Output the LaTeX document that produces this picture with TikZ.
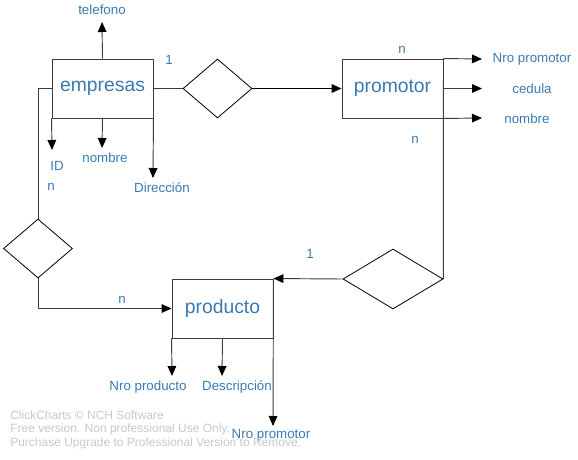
\documentclass[tikz,border=0pt]{standalone}
\usepackage{fontspec}
\setmainfont{Liberation Sans}
\usepackage{xcolor}
\usetikzlibrary{shapes.geometric,arrows.meta}
\definecolor{txtblue}{RGB}{58,122,176}
\definecolor{wmgray}{RGB}{200,200,200}
\definecolor{linegray}{RGB}{60,60,60}

\begin{document}
\begin{tikzpicture}[x=0.75pt,y=-0.75pt,
    entity/.style={draw=linegray,line width=0.7pt,rectangle,minimum width=75.75pt,minimum height=44.25pt,inner sep=0pt,text=txtblue,font=\fontsize{14.5}{16}\selectfont},
    rel/.style={draw=black,line width=0.6pt,diamond,inner sep=0pt,aspect=1.2},
    lbl/.style={text=txtblue,font=\fontsize{10}{12}\selectfont,inner sep=0pt},
    wm/.style={text=wmgray,font=\fontsize{9}{10.5}\selectfont,inner sep=0pt,anchor=west},
    link/.style={draw=linegray,line width=0.7pt},
    arr/.style={link,-{Triangle[length=7.5pt,width=6.5pt,color=black,fill=black]}}]
        \useasboundingbox (0,0) rectangle (578,460);
        % entities and relations
        \node[entity] (emp) at (102.5,88.5) {empresas};
        \node[entity] (prom) at (392.5,88.5) {promotor};
        \node[entity] (prod) at (222.5,308.5) {producto};
        \node[rel,minimum width=51.75pt,minimum height=44.25pt] (r1) at (217.5,88.5) {};
        \node[rel,minimum width=75pt,minimum height=45pt] (r2) at (393,279) {};
        \node[rel,minimum width=51.75pt,minimum height=44.25pt] (r3) at (38,248.5) {};
        % attribute labels
        \node[lbl] (tel) at (102,10) {telefono};
        \node[lbl] (id) at (57,166) {ID};
        \node[lbl] (enom) at (105,158) {nombre};
        \node[lbl] (dir) at (162,188) {Dirección};
        \node[lbl] (pnro) at (532,59) {Nro promotor};
        \node[lbl] (ced) at (532,89) {cedula};
        \node[lbl] (pnom) at (527,119) {nombre};
        \node[lbl] (dnro) at (148,387) {Nro producto};
        \node[lbl] (desc) at (237,387) {Descripción};
        \node[lbl] (dprom) at (271,435) {Nro promotor};
        % cardinalities
        \node[lbl] (c1) at (169,60) {1};
        \node[lbl] (c2) at (402,50) {n};
        \node[lbl] (c3) at (415,140) {n};
        \node[lbl] (c4) at (310,254) {1};
        \node[lbl] (c5) at (122,300) {n};
        \node[lbl] (c6) at (51,187) {n};
        % arrow ends
        \coordinate (tTel) at (102,22);
        \coordinate (tId) at (52,150);
        \coordinate (tNom) at (102,148);
        \coordinate (tDir) at (153,178);
        \coordinate (tPnro) at (482,59);
        \coordinate (tCed) at (482,88.5);
        \coordinate (tPnom) at (482,118);
        \coordinate (tDnro) at (172,376);
        \coordinate (tDesc) at (222,376);
        \coordinate (tDprom) at (273,426);
        % connectors
        \draw[link] (emp.east) -- (r1.west);
        \draw[arr,draw=black,line width=1pt] (r1.east) -- (prom.west);
        \draw[link] (prom.north east) -- (r2.east);
        \draw[arr] (r2.west) -- (prod.north east);
        \draw[link] (emp.west) -| (r3.north);
        \draw[arr] (r3.south) |- (prod.west);
        \draw[arr] (emp.north) -- (tTel);
        \draw[arr] (emp.south west) -- (tId);
        \draw[arr] (emp.south) -- (tNom);
        \draw[arr] (emp.south east) -- (tDir);
        \draw[arr] (prom.north east) -- (tPnro);
        \draw[arr] (prom.east) -- (tCed);
        \draw[arr] (prom.south east) -- (tPnom);
        \draw[arr] (prod.south west) -- (tDnro);
        \draw[arr] (prod.south) -- (tDesc);
        \draw[arr] (prod.north east) -- (tDprom);
        % watermark
        \node[wm] (wm1) at (10,415) {ClickCharts © NCH Software};
        \node[wm] (wm2) at (10,429) {Free version. Non professional Use Only.};
        \node[wm] (wm3) at (10,443) {Purchase Upgrade to Professional Version to Remove.};
    \end{tikzpicture}
\end{document}
